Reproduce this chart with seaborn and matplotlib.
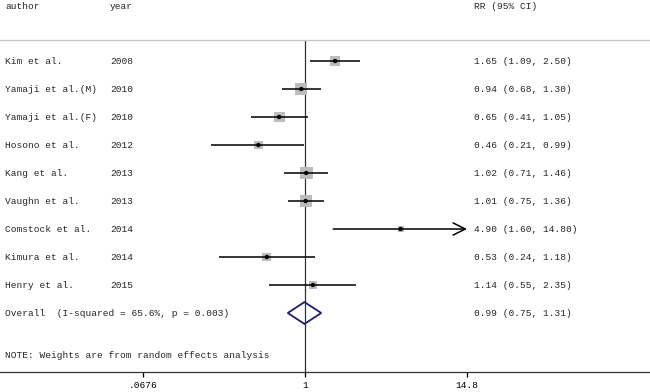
import numpy as np
import pandas as pd
import seaborn as sns
from matplotlib import pyplot as plt
from matplotlib.patches import Polygon

authors = ["Kim et al.", "Yamaji et al.(M)", "Yamaji et al.(F)", "Hosono et al.",
           "Kang et al.", "Vaughn et al.", "Comstock et al.", "Kimura et al.", "Henry et al."]
years = [2008, 2010, 2010, 2012, 2013, 2013, 2014, 2014, 2015]
rr = [1.65, 0.94, 0.65, 0.46, 1.02, 1.01, 4.90, 0.53, 1.14]
lower = [1.09, 0.68, 0.41, 0.21, 0.71, 0.75, 1.60, 0.24, 0.55]
upper = [2.50, 1.30, 1.05, 0.99, 1.46, 1.36, 14.80, 1.18, 2.35]
weights = [11.0, 15.9, 12.9, 7.8, 18.2, 15.9, 4.0, 8.5, 5.8]
overall = (0.99, 0.75, 1.31)
overall_label = "Overall  (I-squared = 65.6%, p = 0.003)"
note = "NOTE: Weights are from random effects analysis"
xticks = [0.0676, 1, 14.8]
xticklabels = [".0676", "1", "14.8"]

df = pd.DataFrame({"author": authors, "year": years, "rr": rr,
                   "lower": lower, "upper": upper, "weight": weights})
df["row"] = np.arange(len(df))
n = len(df)

sns.set_style("white")
plt.rcParams["font.family"] = ["Liberation Mono", "DejaVu Sans Mono"]
fs = 6.8

fig = plt.figure(figsize=(6.5, 3.92), dpi=100)
ax = fig.add_axes([0, 20 / 392, 1, 372 / 392])
ax.set_xscale("log")
ax.set_xlim(0.00625, 311)
ax.set_ylim(11.107, -2.179)

# weight squares (area ~ weight)
sns.scatterplot(data=df, x="rr", y="row", size="weight", sizes=(0, 95), size_norm=(0, 20),
                marker="s", color="#bcbcbc", edgecolor="none", legend=False, ax=ax, zorder=2)

# confidence intervals
xmax = xticks[-1]
for _, r in df.iterrows():
    if r["upper"] >= xmax:
        ax.annotate("", xy=(xmax, r["row"]), xytext=(r["lower"], r["row"]),
                    arrowprops=dict(arrowstyle="->", lw=1.1, color="black",
                                    mutation_scale=22, shrinkA=0, shrinkB=0), zorder=3)
    else:
        ax.hlines(r["row"], r["lower"], r["upper"], color="black", lw=1.1, zorder=3)

# point estimates
sns.scatterplot(data=df, x="rr", y="row", marker="o", s=10, color="black",
                edgecolor="none", legend=False, ax=ax, zorder=4)

# overall diamond
yo = n
est, lo, hi = overall
ax.add_patch(Polygon([(lo, yo), (est, yo - 0.39), (hi, yo), (est, yo + 0.39)],
                     closed=True, fill=False, edgecolor="#1c1c72", lw=1.3, zorder=4))

# null line and top rule
ax.vlines(1, -0.75, 11.107, color="#333333", lw=0.9, zorder=1)
ax.axhline(-0.75, color="#c8c8c8", lw=1)

# text columns
tr = ax.get_yaxis_transform()
ax.text(5 / 650, -1.96, "author", transform=tr, fontsize=fs, va="center")
ax.text(110 / 650, -1.96, "year", transform=tr, fontsize=fs, va="center")
ax.text(474 / 650, -1.96, "RR (95% CI)", transform=tr, fontsize=fs, va="center")
for _, r in df.iterrows():
    ax.text(5 / 650, r["row"], r["author"], transform=tr, fontsize=fs, va="center")
    ax.text(110 / 650, r["row"], str(r["year"]), transform=tr, fontsize=fs, va="center")
    ax.text(474 / 650, r["row"], "{:.2f} ({:.2f}, {:.2f})".format(r["rr"], r["lower"], r["upper"]),
            transform=tr, fontsize=fs, va="center")
ax.text(5 / 650, yo, overall_label, transform=tr, fontsize=fs, va="center")
ax.text(474 / 650, yo, "{:.2f} ({:.2f}, {:.2f})".format(*overall), transform=tr, fontsize=fs, va="center")
ax.text(5 / 650, 10.5, note, transform=tr, fontsize=fs, va="center")

# axis
ax.set_xticks(xticks)
ax.set_xticklabels(xticklabels)
ax.minorticks_off()
ax.tick_params(axis="x", bottom=True, direction="out", length=3.5, width=0.9, pad=3,
               labelsize=fs, colors="black")
ax.set_yticks([])
ax.set_xlabel("")
ax.set_ylabel("")
sns.despine(ax=ax, left=True, top=True, right=True)
ax.spines["bottom"].set_color("#333333")
ax.spines["bottom"].set_linewidth(0.9)
ax.set_facecolor("white")

fig.savefig("out.png", dpi=100, facecolor="white")
